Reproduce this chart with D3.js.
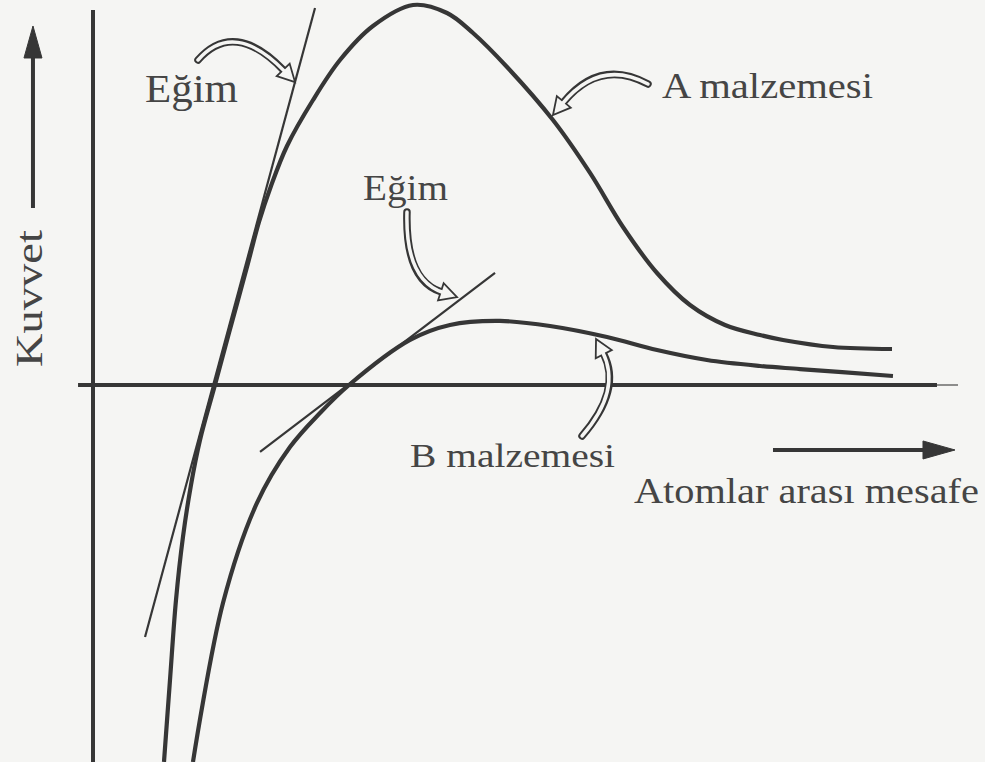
<!DOCTYPE html>
<html>
<head>
<meta charset="utf-8">
<script src="https://cdn.jsdelivr.net/npm/d3@7"></script>
<style>
  html, body { margin: 0; padding: 0; background: #f5f5f3; }
  svg { display: block; }
</style>
</head>
<body>
<script>
// Kuvvet – atomlar arası mesafe eğrileri (A ve B malzemeleri)

// [mesafe, kuvvet] noktaları, keyfi birimler
const materialA = [
  [0.816, -3.968], [0.885, -3.105], [0.954, -2.263], [1.034, -1.600],
  [1.126, -1.053], [1.230, -0.579], [1.402, 0.000], [1.563, 0.547],
  [1.770, 1.242], [1.908, 1.716], [2.046, 2.095], [2.230, 2.516],
  [2.529, 3.000], [2.839, 3.421], [3.218, 3.779], [3.678, 4.000],
  [4.069, 3.916], [4.368, 3.705], [4.759, 3.347], [5.287, 2.789],
  [5.713, 2.232], [6.092, 1.663], [6.483, 1.179], [6.862, 0.842],
  [7.264, 0.632], [7.667, 0.526], [7.931, 0.474], [8.506, 0.400],
  [9.184, 0.379]
];
const materialB = [
  [1.149, -3.968], [1.494, -2.295], [1.885, -1.242], [2.264, -0.653],
  [2.609, -0.295], [2.943, 0.000], [3.644, 0.474], [4.103, 0.632],
  [4.678, 0.674], [5.253, 0.621], [5.908, 0.505], [6.483, 0.368],
  [7.057, 0.263], [7.667, 0.200], [8.126, 0.168], [9.195, 0.095]
];
// Sıfır kuvvet noktasındaki teğetler
const slopeA = [[0.598, -2.653], [2.552, 3.968]];
const slopeB = [[1.920, -0.705], [4.621, 1.179]];

const labelTexts = ["Eğim", "A malzemesi", "Eğim", "B malzemesi"];
const axisTitles = ["Atomlar arası mesafe", "Kuvvet"];

const W = 985, H = 762;
const ink = "#363636", textInk = "#454545", paper = "#f5f5f3";

const x = d3.scaleLinear().domain([0, 10]).range([93, 963]);
const y = d3.scaleLinear().domain([-4, 4]).range([765, 5]);

const svg = d3.select("body").append("svg")
  .attr("width", W).attr("height", H)
  .style("background", paper);

const line = d3.line().x(d => x(d[0])).y(d => y(d[1]));
const curve = d3.line().x(d => x(d[0])).y(d => y(d[1]))
  .curve(d3.curveCatmullRom.alpha(0.5));

// Eksenler
svg.append("path")
  .attr("d", line([[0, -4.2], [0, 3.947]]))
  .attr("stroke", ink).attr("stroke-width", 4).attr("fill", "none");
svg.append("path")
  .attr("d", line([[-0.172, 0], [9.701, 0]]))
  .attr("stroke", ink).attr("stroke-width", 4).attr("fill", "none");
svg.append("path")
  .attr("d", line([[9.701, 0], [9.943, 0]]))
  .attr("stroke", "#6a6a6a").attr("stroke-width", 1.5).attr("fill", "none");

// Teğet doğruları
[slopeA, slopeB].forEach(seg => {
  svg.append("path")
    .attr("d", line(seg))
    .attr("stroke", ink).attr("stroke-width", 2.2).attr("fill", "none");
});

// Malzeme eğrileri
[materialA, materialB].forEach(data => {
  svg.append("path")
    .attr("d", curve(data))
    .attr("stroke", ink).attr("stroke-width", 4.2)
    .attr("fill", "none").attr("stroke-linecap", "butt");
});

// İçi boş kavisli oklar
function hollowArrow(tail, ctrl, tip) {
  const T = [x(tip[0]), y(tip[1])];
  const C = [x(ctrl[0]), y(ctrl[1])];
  const S = [x(tail[0]), y(tail[1])];
  let dx = T[0] - C[0], dy = T[1] - C[1];
  const len = Math.hypot(dx, dy); dx /= len; dy /= len;
  const nx = -dy, ny = dx;
  const L = 17, Wd = 9;
  const B = [T[0] - dx * L, T[1] - dy * L];
  const Bin = [B[0] + dx * 2.5, B[1] + dy * 2.5];
  const body = p => `M${S[0]},${S[1]} Q${C[0]},${C[1]} ${p[0]},${p[1]}`;
  svg.append("path").attr("d", body(B))
    .attr("stroke", ink).attr("stroke-width", 7.5)
    .attr("fill", "none").attr("stroke-linecap", "round");
  svg.append("path")
    .attr("d", `M${T[0]},${T[1]} L${B[0] + nx * Wd},${B[1] + ny * Wd} L${B[0] - nx * Wd},${B[1] - ny * Wd} Z`)
    .attr("fill", paper).attr("stroke", ink).attr("stroke-width", 1.8)
    .attr("stroke-linejoin", "miter");
  svg.append("path").attr("d", body(Bin))
    .attr("stroke", paper).attr("stroke-width", 3.5)
    .attr("fill", "none").attr("stroke-linecap", "round");
}

hollowArrow([1.207, 3.421], [1.621, 3.853], [2.322, 3.189]);
hollowArrow([6.379, 3.168], [5.828, 3.442], [5.287, 2.842]);
hollowArrow([3.609, 1.821], [3.586, 1.105], [4.184, 0.926]);
hollowArrow([5.621, -0.537], [6.080, -0.053], [5.782, 0.484]);

// Dolu eksen okları
function solidArrow(from, to) {
  const A = [x(from[0]), y(from[1])], T = [x(to[0]), y(to[1])];
  let dx = T[0] - A[0], dy = T[1] - A[1];
  const len = Math.hypot(dx, dy); dx /= len; dy /= len;
  const nx = -dy, ny = dx, L = 32, Wd = 9;
  const B = [T[0] - dx * L, T[1] - dy * L];
  svg.append("path")
    .attr("d", `M${A[0]},${A[1]} L${B[0] + dx * 4},${B[1] + dy * 4}`)
    .attr("stroke", ink).attr("stroke-width", 4).attr("fill", "none");
  svg.append("path")
    .attr("d", `M${T[0]},${T[1]} L${B[0] + nx * Wd},${B[1] + ny * Wd} L${B[0] - nx * Wd},${B[1] - ny * Wd} Z`)
    .attr("fill", ink).attr("stroke", ink).attr("stroke-width", 1);
}
solidArrow([7.816, -0.684], [9.908, -0.684]);
solidArrow([-0.690, 1.863], [-0.690, 3.779]);

// Yazılar
const font = "'Liberation Serif', 'Times New Roman', serif";
function label(text, pos, size, width, rotate) {
  const t = svg.append("text")
    .attr("font-family", font).attr("font-size", size)
    .attr("fill", textInk)
    .attr("textLength", width).attr("lengthAdjust", "spacingAndGlyphs")
    .text(text);
  if (rotate) {
    t.attr("transform", `translate(${x(pos[0])},${y(pos[1])}) rotate(-90)`);
  } else {
    t.attr("x", x(pos[0])).attr("y", y(pos[1]));
  }
}
label(labelTexts[0], [0.598, 2.979], 39, 93);
label(labelTexts[1], [6.540, 3.021], 35, 211);
label(labelTexts[2], [3.103, 1.947], 35, 85);
label(labelTexts[3], [3.644, -0.863], 34, 205);
label(axisTitles[0], [6.218, -1.242], 35, 345);
label(axisTitles[1], [-0.586, 0.189], 38, 137, true);
</script>
</body>
</html>
